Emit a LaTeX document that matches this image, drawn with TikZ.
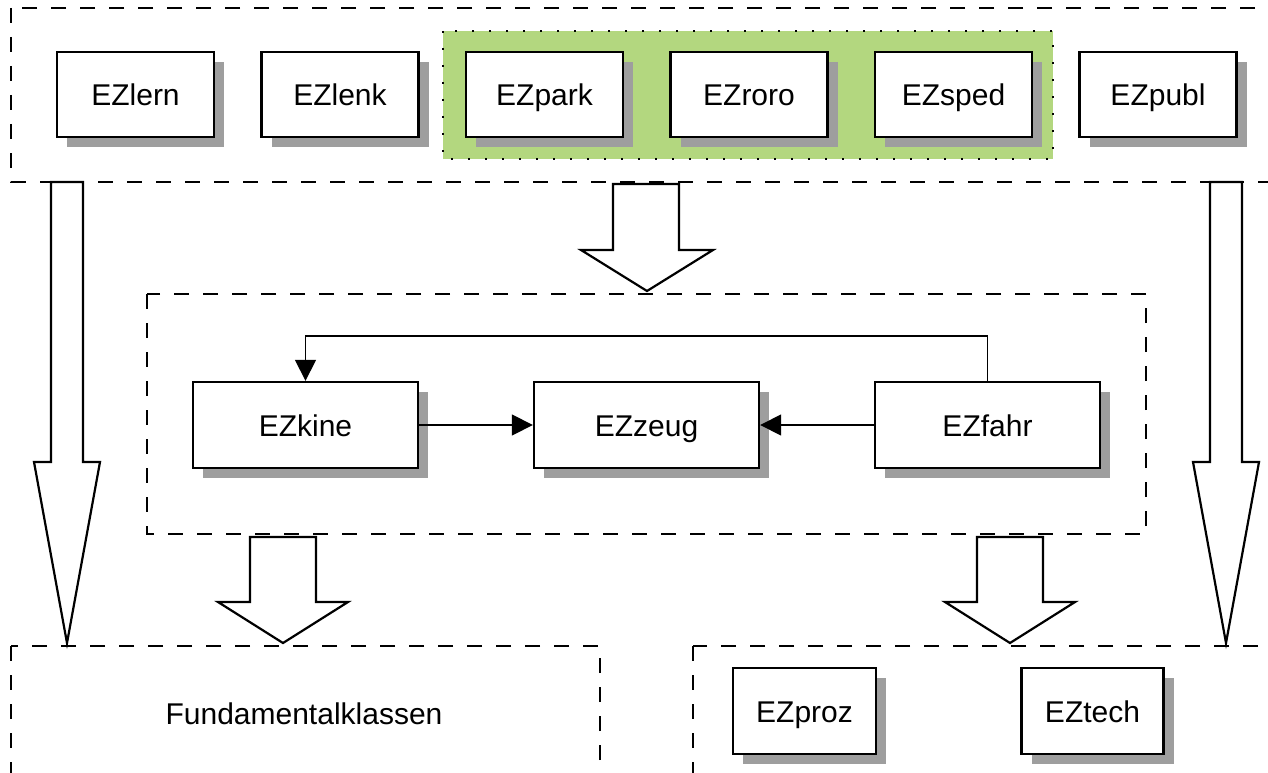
\documentclass[tikz,border=0pt]{standalone}
\usepackage{fontspec}
\setmainfont{Liberation Sans}
\usetikzlibrary{arrows.meta,shadows}
\definecolor{shadowgray}{HTML}{9E9E9E}
\definecolor{groupgreen}{HTML}{B3D77F}
\tikzset{
  x=1pt, y=-1pt,
  label/.style={font=\fontsize{30}{35}\selectfont, text height=23pt, text depth=0pt, inner sep=0pt},
  ezbox/.style={label, draw, line width=2.4pt, fill=white,
    minimum width=157pt, minimum height=85pt,
    drop shadow={shadow xshift=10pt, shadow yshift=-10pt, fill=shadowgray, opacity=1}},
  widebox/.style={ezbox, minimum width=225pt, minimum height=86pt},
  smallbox/.style={ezbox, minimum width=143pt, minimum height=86pt},
  container/.style={draw, line width=2.8pt, dash pattern=on 15pt off 14pt},
  group/.style={fill=groupgreen, draw, line width=2.2pt, dash pattern=on 2.2pt off 14.8pt},
  bigarrow/.style={draw, fill=white, line width=2.2pt, line join=miter},
  link/.style={draw, line width=1.7pt, -{Triangle[length=21pt,width=21pt]}},
}
\begin{document}
\begin{tikzpicture}
\useasboundingbox (0,0) rectangle (1268,773);
\fill[white] (0,0) rectangle (1268,773);

% containers
\draw[container] (11,8) rectangle (1300,182);
\draw[container] (147,294) rectangle (1146,534);
\draw[container] (11,646) rectangle (600,800);
\draw[container] (693,646) rectangle (1300,800);

% green group
\path[group] (443,31) rectangle (1053,159);

% top row
\node[ezbox] (lern) at (135.5,94.5) {EZlern};
\node[ezbox] (lenk) at (340,94.5) {EZlenk};
\node[ezbox] (park) at (544.5,94.5) {EZpark};
\node[ezbox] (roro) at (749,94.5) {EZroro};
\node[ezbox] (sped) at (953.5,94.5) {EZsped};
\node[ezbox] (publ) at (1158,94.5) {EZpubl};

% middle row
\node[widebox] (kine) at (305.5,425) {EZkine};
\node[widebox] (zeug) at (646.5,425) {EZzeug};
\node[widebox] (fahr) at (987.5,425) {EZfahr};

\draw[link] (kine.east) -- (zeug.west);
\draw[link] (fahr.west) -- (zeug.east);
\draw[link] (fahr.north) -- ++(0,-45) -| (kine.north);

% bottom
\node[label] (fund) at (304,713) {Fundamentalklassen};
\node[smallbox] (proz) at (804.5,711) {EZproz};
\node[smallbox, minimum width=142pt] (tech) at (1092.5,711) {EZtech};

% big hollow arrows
\draw[bigarrow] (51,182) -- (83,182) -- (83,462) -- (100,462) -- (67,643) -- (34,462) -- (51,462) -- cycle;
\draw[bigarrow] (1210,182) -- (1242,182) -- (1242,462) -- (1259,462) -- (1226,643) -- (1193,462) -- (1210,462) -- cycle;
\draw[bigarrow] (613,184) -- (679,184) -- (679,250) -- (713,250) -- (647,291) -- (581,250) -- (613,250) -- cycle;
\draw[bigarrow] (250,537) -- (316,537) -- (316,602) -- (348,602) -- (283,643) -- (218,602) -- (250,602) -- cycle;
\draw[bigarrow] (977,537) -- (1043,537) -- (1043,602) -- (1075,602) -- (1010,643) -- (945,602) -- (977,602) -- cycle;
\end{tikzpicture}
\end{document}
